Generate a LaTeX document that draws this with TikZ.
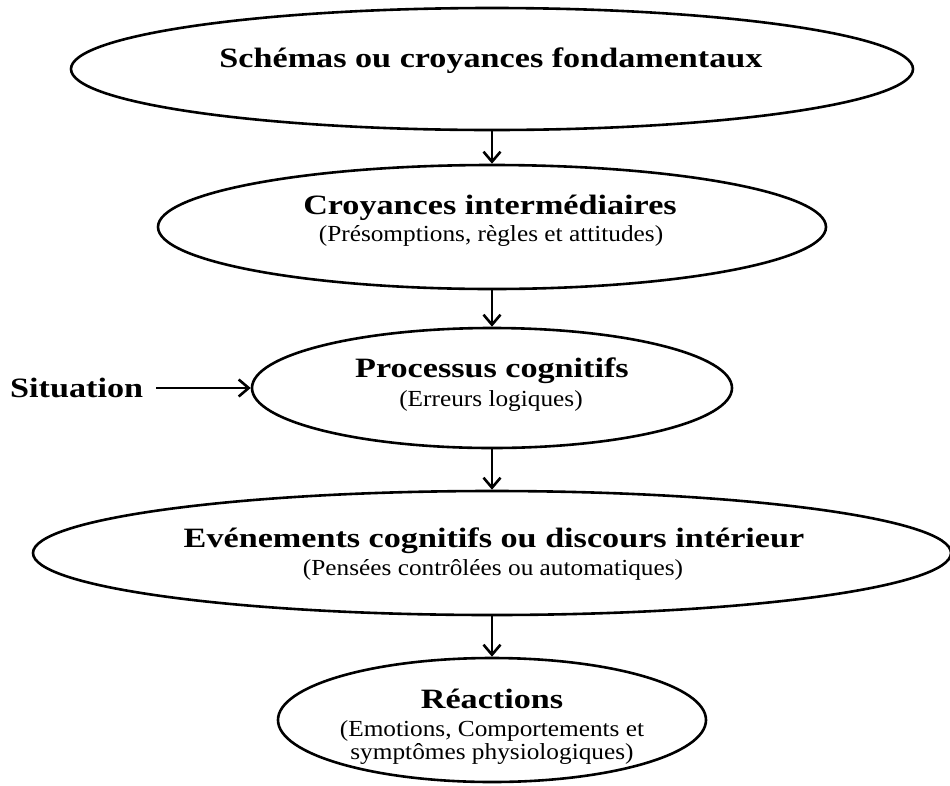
\documentclass[tikz,border=0pt]{standalone}
\usepackage{fontspec}
\setmainfont{Liberation Serif}
\usetikzlibrary{shapes.geometric,arrows.meta}
\newcommand{\ttl}[1]{\scalebox{1.22}[1]{\fontsize{28}{32}\selectfont\bfseries #1}}
\newcommand{\subt}[1]{\scalebox{1.1}[1]{\fontsize{23}{27}\selectfont #1}}
\begin{document}
\begin{tikzpicture}[x=1pt,y=-1pt,
  oval/.style={draw=black,line width=2.6pt,ellipse,inner sep=0pt},
  lbl/.style={inner sep=0pt,anchor=base},
  arr/.style={line width=2.6pt,-{Straight Barb[length=10pt,width=17pt]}}]
\useasboundingbox (0,0) rectangle (950,785);
% ellipses
\node[oval,minimum width=842pt,minimum height=122pt] (e1) at (492,69) {};
\node[oval,minimum width=668pt,minimum height=124pt] (e2) at (492,227) {};
\node[oval,minimum width=480pt,minimum height=120pt] (e3) at (492,388) {};
\node[oval,minimum width=918pt,minimum height=124pt] (e4) at (492,553) {};
\node[oval,minimum width=428pt,minimum height=124pt] (e5) at (492,720) {};
% labels
\node[lbl] (t1) at (491,67) {\ttl{Schémas ou croyances fondamentaux}};
\node[lbl] (t2) at (490,214) {\ttl{Croyances intermédiaires}};
\node[lbl] (s2) at (491,241) {\subt{(Présomptions, règles et attitudes)}};
\node[lbl] (t3) at (492,377) {\ttl{Processus cognitifs}};
\node[lbl] (s3) at (491,406) {\subt{(Erreurs logiques)}};
\node[lbl] (t4) at (494,547) {\ttl{Evénements cognitifs ou discours intérieur}};
\node[lbl] (s4) at (493,575) {\subt{(Pensées contrôlées ou automatiques)}};
\node[lbl] (t5) at (492,708) {\ttl{Réactions}};
\node[lbl] (s5a) at (492,736) {\subt{(Emotions, Comportements et}};
\node[lbl] (s5b) at (492,759) {\subt{symptômes physiologiques)}};
\node[lbl,anchor=base west] (sit) at (10,397) {\ttl{Situation}};
% connectors
\draw[arr] (e1.south) -- (e2.north);
\draw[arr] (e2.south) -- (e3.north);
\draw[arr] (e3.south) -- (e4.north);
\draw[arr] (e4.south) -- (e5.north);
\draw[arr] ([xshift=13pt]sit.east |- e3.west) -- (e3.west);
\end{tikzpicture}
\end{document}
